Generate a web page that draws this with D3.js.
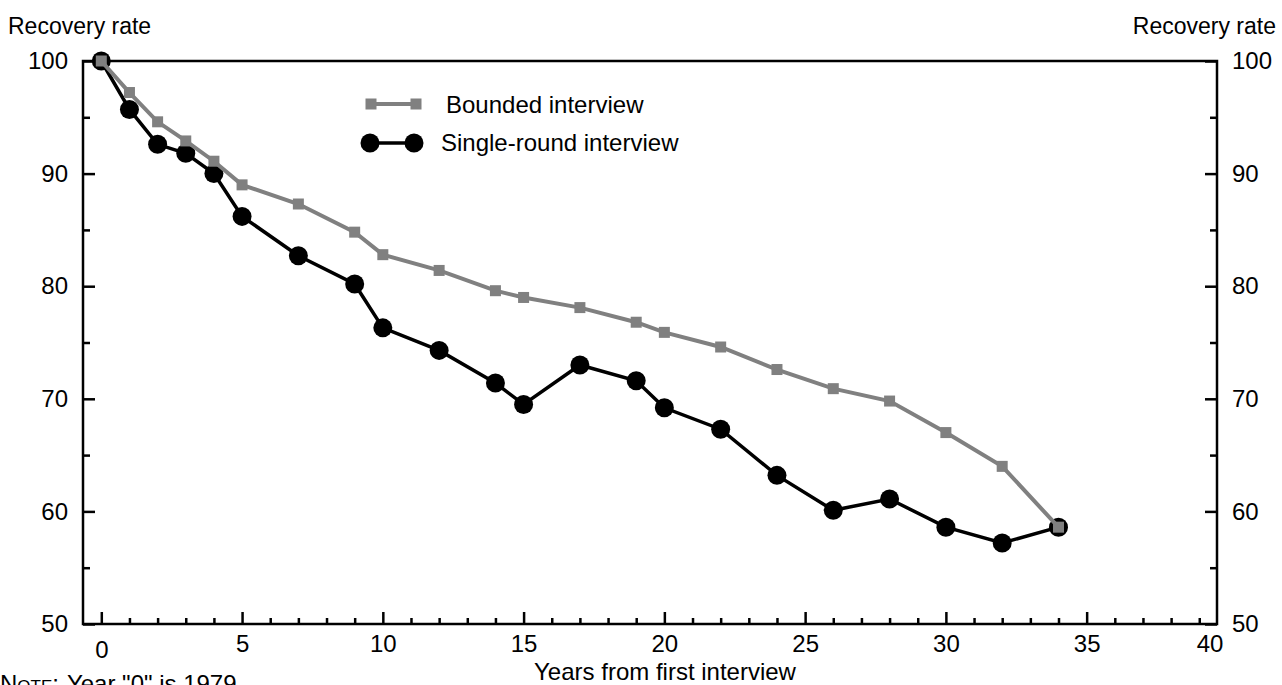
<!DOCTYPE html>
<html>
<head>
<meta charset="utf-8">
<script src="https://cdn.jsdelivr.net/npm/d3@7"></script>
<style>
  body { margin: 0; background: #fff; }
  svg { display: block; font-family: "Liberation Sans", Arial, sans-serif; }
</style>
</head>
<body>
<div id="chart"></div>
<script>
// data
const years = [0, 1, 2, 3, 4, 5, 7, 9, 10, 12, 14, 15, 17, 19, 20, 22, 24, 26, 28, 30, 32, 34];
const bounded = [100, 97.2, 94.6, 92.9, 91.1, 89.0, 87.3, 84.8, 82.8, 81.4, 79.6, 79.0, 78.1, 76.8, 75.9, 74.6, 72.6, 70.9, 69.8, 67.0, 64.0, 58.6];
const singleRound = [100, 95.7, 92.6, 91.8, 90.0, 86.2, 82.7, 80.2, 76.3, 74.3, 71.4, 69.5, 73.0, 71.6, 69.2, 67.3, 63.2, 60.1, 61.1, 58.6, 57.2, 58.6];

const xMajorTicks = [0, 5, 10, 15, 20, 25, 30, 35];
const xEndLabel = '40';
const yMajorTicks = [50, 60, 70, 80, 90, 100];
const yMinorTicks = [55, 65, 75, 85, 95];
const seriesNames = ['Bounded interview', 'Single-round interview'];

const width = 1282, height = 685;

const svg = d3.select('#chart')
  .append('svg')
  .attr('width', width)
  .attr('height', height);

// scales (axis runs a little past 0 on the left and stops short of 40 on the right)
const x = d3.scaleLinear().domain([-0.65, 39.63]).range([83, 1217]);
const y = d3.scaleLinear().domain([50, 100]).range([624, 61]);

const [x0, x1] = x.range();
const [y0, y1] = y.range();

// frame
svg.append('rect')
  .attr('x', x0)
  .attr('y', y1)
  .attr('width', x1 - x0)
  .attr('height', y0 - y1)
  .attr('fill', 'none')
  .attr('stroke', '#000')
  .attr('stroke-width', 2.5);

function styleAxis(g) {
  g.select('.domain').remove();
  g.selectAll('.tick line').attr('stroke', '#000').attr('stroke-width', 2.5);
  g.selectAll('.tick text').attr('fill', '#000').style('font-size', '24px');
}

// bottom axis, ticks pointing inward
const xMinor = d3.range(1, 40).filter(d => d % 5 !== 0);

svg.append('g')
  .attr('transform', `translate(0,${y0})`)
  .call(d3.axisBottom(x).tickValues(xMinor).tickSize(-6).tickFormat(''))
  .call(styleAxis);

const xAxis = svg.append('g')
  .attr('transform', `translate(0,${y0})`)
  .call(d3.axisBottom(x).tickValues(xMajorTicks).tickSize(-12).tickSizeOuter(0).tickPadding(11))
  .call(styleAxis);

// the "0" label sits a bit lower in the original
xAxis.selectAll('.tick text').filter(d => d === 0).attr('y', 17);

svg.append('text')
  .attr('x', x1 - 7)
  .attr('y', y0 + 11)
  .attr('dy', '0.71em')
  .attr('text-anchor', 'middle')
  .style('font-size', '24px')
  .text(xEndLabel);

// left axis
svg.append('g')
  .attr('transform', `translate(${x0},0)`)
  .call(d3.axisLeft(y).tickValues(yMajorTicks).tickSize(-12).tickPadding(15))
  .call(styleAxis);

svg.append('g')
  .attr('transform', `translate(${x0},0)`)
  .call(d3.axisLeft(y).tickValues(yMinorTicks).tickSize(-7).tickFormat(''))
  .call(styleAxis);

// right axis
svg.append('g')
  .attr('transform', `translate(${x1},0)`)
  .call(d3.axisRight(y).tickValues(yMajorTicks).tickSize(-12).tickPadding(15))
  .call(styleAxis);

svg.append('g')
  .attr('transform', `translate(${x1},0)`)
  .call(d3.axisRight(y).tickValues(yMinorTicks).tickSize(-7).tickFormat(''))
  .call(styleAxis);

// axis titles
svg.append('text')
  .attr('x', 8)
  .attr('y', 34)
  .style('font-size', '23px')
  .text('Recovery rate');

svg.append('text')
  .attr('x', 1276)
  .attr('y', 34)
  .attr('text-anchor', 'end')
  .style('font-size', '23px')
  .text('Recovery rate');

svg.append('text')
  .attr('x', 665)
  .attr('y', 680)
  .attr('text-anchor', 'middle')
  .style('font-size', '24px')
  .text('Years from first interview');

// note under the chart, "Note:" in small caps
const note = svg.append('text')
  .attr('x', 0)
  .attr('y', 692)
  .style('font-size', '24px');
note.append('tspan')
  .style('font-variant', 'small-caps')
  .text('Note:');
note.append('tspan')
  .attr('dx', 8)
  .text('Year "0" is 1979');

// series
const singleData = years.map((yr, i) => ({ yr, v: singleRound[i] }));
const boundedData = years.map((yr, i) => ({ yr, v: bounded[i] }));

const line = d3.line()
  .x(d => x(d.yr))
  .y(d => y(d.v));

svg.append('path')
  .datum(singleData)
  .attr('fill', 'none')
  .attr('stroke', '#000')
  .attr('stroke-width', 3.5)
  .attr('d', line);

svg.selectAll('.dot-single')
  .data(singleData)
  .join('circle')
  .attr('class', 'dot-single')
  .attr('cx', d => x(d.yr))
  .attr('cy', d => y(d.v))
  .attr('r', 9.5)
  .attr('fill', '#000');

svg.append('path')
  .datum(boundedData)
  .attr('fill', 'none')
  .attr('stroke', '#808080')
  .attr('stroke-width', 4)
  .attr('d', line);

const sq = 11;
svg.selectAll('.dot-bounded')
  .data(boundedData)
  .join('rect')
  .attr('class', 'dot-bounded')
  .attr('x', d => x(d.yr) - sq / 2)
  .attr('y', d => y(d.v) - sq / 2)
  .attr('width', sq)
  .attr('height', sq)
  .attr('fill', '#808080');

// legend
const legend = svg.append('g');

legend.append('line')
  .attr('x1', 371).attr('x2', 416)
  .attr('y1', 104).attr('y2', 104)
  .attr('stroke', '#808080')
  .attr('stroke-width', 4);

legend.selectAll('.leg-sq')
  .data([371, 416])
  .join('rect')
  .attr('class', 'leg-sq')
  .attr('x', d => d - sq / 2)
  .attr('y', 104 - sq / 2)
  .attr('width', sq)
  .attr('height', sq)
  .attr('fill', '#808080');

legend.append('text')
  .attr('x', 446)
  .attr('y', 113)
  .style('font-size', '24px')
  .text(seriesNames[0]);

legend.append('line')
  .attr('x1', 370).attr('x2', 414)
  .attr('y1', 143).attr('y2', 143)
  .attr('stroke', '#000')
  .attr('stroke-width', 3.5);

legend.selectAll('.leg-dot')
  .data([370, 414])
  .join('circle')
  .attr('class', 'leg-dot')
  .attr('cx', d => d)
  .attr('cy', 143)
  .attr('r', 9.5)
  .attr('fill', '#000');

legend.append('text')
  .attr('x', 441)
  .attr('y', 151)
  .style('font-size', '24px')
  .text(seriesNames[1]);
</script>
</body>
</html>
